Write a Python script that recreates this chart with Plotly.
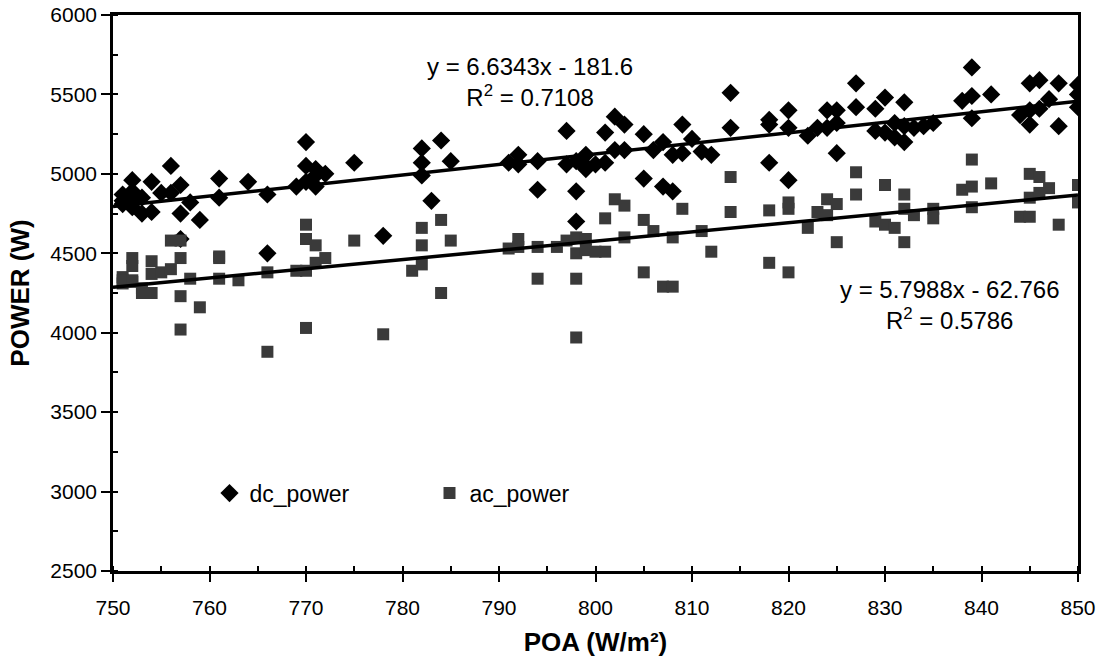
import plotly.graph_objects as go

# ---- data ----
dc_x = [751, 751, 751, 752, 752, 752, 752, 753, 753, 754, 754, 755, 756, 756,
        757, 757, 757, 758, 759, 761, 761, 764, 766, 766, 769, 770, 770, 770,
        771, 771, 771, 772, 775, 778, 782, 782, 782, 783, 784, 785, 791, 792,
        792, 794, 794, 797, 797, 798, 798, 798, 799, 799, 799, 800, 801, 801,
        802, 802, 803, 803, 805, 805, 806, 807, 807, 808, 808, 809, 809, 810,
        811, 812, 814, 814, 818, 818, 818, 820, 820, 820, 822, 823, 824, 824,
        825, 825, 825, 827, 827, 829, 829, 830, 830, 831, 831, 832, 832, 832,
        833, 834, 835, 838, 839, 839, 839, 841, 844, 845, 845, 845, 846, 846,
        847, 848, 848, 850, 850, 850]
dc_y = [4870, 4810, 4830, 4960, 4890, 4830, 4790, 4850, 4750, 4950, 4760, 4880, 5050, 4880,
        4930, 4750, 4590, 4820, 4710, 4970, 4850, 4950, 4870, 4500, 4920, 5200, 5050, 4950,
        5030, 4920, 4990, 5000, 5070, 4610, 5160, 5070, 4990, 4830, 5210, 5080, 5070, 5120,
        5060, 5080, 4900, 5270, 5060, 5080, 4890, 4700, 5120, 5030, 5050, 5060, 5260, 5070,
        5360, 5150, 5310, 5150, 5250, 4970, 5150, 5200, 4920, 4890, 5120, 5310, 5130, 5220,
        5140, 5120, 5510, 5290, 5340, 5310, 5070, 5400, 5290, 4960, 5240, 5290, 5400, 5290,
        5400, 5130, 5320, 5570, 5420, 5410, 5270, 5480, 5260, 5320, 5230, 5450, 5300, 5200,
        5290, 5300, 5320, 5460, 5670, 5490, 5350, 5500, 5370, 5570, 5400, 5310, 5590, 5410,
        5470, 5570, 5300, 5560, 5500, 5420]

ac_x = [751, 751, 751, 752, 752, 752, 752, 753, 753, 754, 754, 754, 755, 756, 756,
        757, 757, 757, 757, 758, 759, 761, 761, 761, 763, 766, 766, 769, 770, 770,
        770, 770, 771, 771, 772, 775, 778, 781, 782, 782, 782, 784, 784, 785, 791,
        792, 792, 794, 794, 796, 797, 798, 798, 798, 798, 799, 799, 800, 801, 801,
        802, 803, 803, 805, 805, 806, 807, 808, 808, 809, 811, 812, 814, 814, 818,
        818, 820, 820, 820, 822, 823, 824, 824, 825, 825, 827, 827, 829, 830, 830,
        831, 832, 832, 832, 833, 835, 835, 838, 839, 839, 839, 841, 844, 845, 845,
        845, 846, 846, 847, 848, 850, 850]
ac_y = [4350, 4310, 4330, 4470, 4420, 4330, 4320, 4280, 4250, 4450, 4250, 4370, 4380, 4580, 4400,
        4580, 4470, 4230, 4020, 4340, 4160, 4480, 4470, 4340, 4330, 4380, 3880, 4390, 4680, 4590,
        4390, 4030, 4550, 4440, 4470, 4580, 3990, 4390, 4660, 4550, 4430, 4710, 4250, 4580, 4530,
        4590, 4540, 4540, 4340, 4540, 4580, 4600, 4500, 4340, 3970, 4590, 4520, 4510, 4720, 4510,
        4840, 4800, 4600, 4710, 4380, 4640, 4290, 4290, 4600, 4780, 4640, 4510, 4980, 4760, 4770,
        4440, 4820, 4780, 4380, 4660, 4760, 4840, 4740, 4810, 4570, 5010, 4870, 4700, 4930, 4680,
        4660, 4870, 4780, 4570, 4740, 4780, 4720, 4900, 5090, 4920, 4790, 4940, 4730, 5000, 4850,
        4730, 4980, 4880, 4910, 4680, 4930, 4820]

# trendline coefficients as printed on the chart
dc_slope, dc_intercept, dc_r2 = 6.6343, -181.6, 0.7108
ac_slope, ac_intercept, ac_r2 = 5.7988, -62.766, 0.5786
fit_x = [750, 850]

x_ticks = list(range(750, 851, 10))
y_ticks = list(range(2500, 6001, 500))

FONT = "Liberation Sans, Arial, sans-serif"

fig = go.Figure()

fig.add_trace(go.Scatter(
    x=dc_x, y=dc_y, mode="markers", name="dc_power",
    marker=dict(symbol="diamond", size=14, color="#000000", line=dict(width=0)),
))
fig.add_trace(go.Scatter(
    x=ac_x, y=ac_y, mode="markers", name="ac_power",
    marker=dict(symbol="square", size=12, color="#3a3a3a", line=dict(width=0)),
))
fig.add_trace(go.Scatter(
    x=fit_x, y=[dc_slope * v + dc_intercept for v in fit_x], mode="lines",
    line=dict(color="#000000", width=3.5), showlegend=False, hoverinfo="skip",
))
fig.add_trace(go.Scatter(
    x=fit_x, y=[ac_slope * v + ac_intercept for v in fit_x], mode="lines",
    line=dict(color="#000000", width=3.5), showlegend=False, hoverinfo="skip",
))

fig.add_annotation(
    x=793.2, y=5578, xref="x", yref="y", showarrow=False,
    text=f"y = {dc_slope}x - {abs(dc_intercept)}<br>R<sup>2</sup> = {dc_r2}",
    font=dict(family=FONT, size=24, color="#000"), align="center",
)
fig.add_annotation(
    x=836.7, y=4174, xref="x", yref="y", showarrow=False,
    text=f"y = {ac_slope}x - {abs(ac_intercept)}<br>R<sup>2</sup> = {ac_r2}",
    font=dict(family=FONT, size=24, color="#000"), align="center",
)

fig.update_layout(
    width=1097, height=660,
    margin=dict(l=113, r=19, t=15, b=89),
    paper_bgcolor="white", plot_bgcolor="white",
    font=dict(family=FONT, size=21, color="#000"),
    showlegend=True,
    legend=dict(
        orientation="h", x=0.10, y=0.14, xanchor="left", yanchor="middle",
        bgcolor="rgba(0,0,0,0)", font=dict(family=FONT, size=23, color="#000"),
        entrywidth=175, itemsizing="trace",
    ),
    xaxis=dict(
        range=[750, 850], tickmode="array", tickvals=x_ticks,
        ticks="outside", ticklen=8, tickwidth=1.5, tickcolor="#000",
        ticklabelstandoff=8, ticklabeloverflow="allow",
        minor=dict(dtick=5, ticks="inside", ticklen=5, tickwidth=1.5, tickcolor="#000"),
        showline=True, linecolor="#000", linewidth=2.5, mirror=True,
        showgrid=False, zeroline=False, automargin=False,
        tickfont=dict(family=FONT, size=21),
        title=dict(text="<b>POA (W/m²)</b>", font=dict(family=FONT, size=26), standoff=15),
    ),
    yaxis=dict(
        range=[2500, 6000], tickmode="array", tickvals=y_ticks,
        ticks="outside", ticklen=9, tickwidth=1.5, tickcolor="#000",
        ticklabeloverflow="allow",
        minor=dict(dtick=250, ticks="inside", ticklen=5, tickwidth=1.5, tickcolor="#000"),
        showline=True, linecolor="#000", linewidth=2.5, mirror=True,
        showgrid=False, zeroline=False, automargin=False,
        tickfont=dict(family=FONT, size=21),
        title=dict(text="<b>POWER (W)</b>", font=dict(family=FONT, size=26), standoff=14),
    ),
)

fig.write_html(
    "out.html",
    config={"displayModeBar": False},
    post_script="document.body.style.margin='0';document.body.style.overflow='hidden';",
)
